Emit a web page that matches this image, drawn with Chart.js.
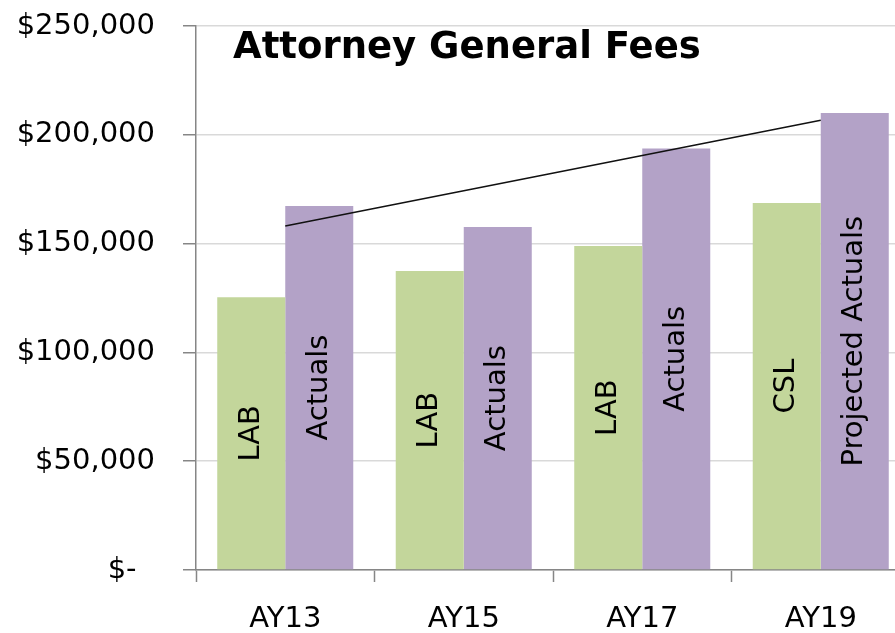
<!DOCTYPE html>
<html>
<head>
<meta charset="utf-8">
<script src="https://cdn.jsdelivr.net/npm/chart.js@4/dist/chart.umd.min.js"></script>
<style>
  html, body { margin: 0; padding: 0; overflow: hidden; background: #fff; }
  #wrap { width: 911px; height: 633px; position: relative; }
</style>
</head>
<body>
<div id="wrap"><canvas id="chart"></canvas></div>
<script>
// values
const categories = ["AY13", "AY15", "AY17", "AY19"];
const budgetValues = [125300, 137400, 148900, 168700];
const actualValues = [167300, 157600, 193700, 210000];
const trendValues = [158100, 174300, 190500, 206700];
const budgetTags = ["LAB", "LAB", "LAB", "CSL"];
const actualTags = ["Actuals", "Actuals", "Actuals", "Projected Actuals"];
const yMax = 250000;
const yStep = 50000;

const FONT = "DejaVu Sans";

function moneyLabel(value) {
  if (value === 0) return "$-  ";
  return "$" + value.toLocaleString("en-US");
}

// vertical text inside each bar
const barTags = {
  id: "barTags",
  afterDatasetsDraw(chart) {
    const ctx = chart.ctx;
    const tagSets = [budgetTags, actualTags];
    ctx.save();
    ctx.font = "29px " + FONT;
    ctx.fillStyle = "#000";
    ctx.textAlign = "center";
    ctx.textBaseline = "middle";
    [1, 2].forEach((dsIndex, k) => {
      const meta = chart.getDatasetMeta(dsIndex);
      meta.data.forEach((bar, i) => {
        const cy = (bar.y + bar.base) / 2;
        ctx.save();
        ctx.translate(bar.x, cy);
        ctx.rotate(-Math.PI / 2);
        ctx.fillText(tagSets[k][i], 0, 0);
        ctx.restore();
      });
    });
    ctx.restore();
  },
};

const chartTitle = {
  id: "chartTitle",
  afterDraw(chart) {
    const ctx = chart.ctx;
    ctx.save();
    ctx.font = "bold 37px " + FONT;
    ctx.fillStyle = "#000";
    ctx.textAlign = "left";
    ctx.textBaseline = "alphabetic";
    ctx.fillText("Attorney General Fees", 233, 58);
    ctx.restore();
  },
};

const canvas = document.getElementById("chart");

const chart = new Chart(canvas, {
  data: {
    labels: categories,
    datasets: [
      {
        type: "line",
        label: "Trend",
        data: trendValues,
        borderColor: "#111",
        borderWidth: 1.5,
        pointRadius: 0,
        fill: false,
        order: 0,
      },
      {
        type: "bar",
        label: "Budget",
        data: budgetValues,
        backgroundColor: "#c3d69b",
        categoryPercentage: 0.762,
        barPercentage: 1,
        order: 1,
      },
      {
        type: "bar",
        label: "Actuals",
        data: actualValues,
        backgroundColor: "#b3a2c7",
        categoryPercentage: 0.762,
        barPercentage: 1,
        order: 1,
      },
    ],
  },
  options: {
    responsive: true,
    maintainAspectRatio: false,
    animation: false,
    layout: {
      padding: { top: 26, right: 1, left: 0, bottom: 0 },
    },
    scales: {
      x: {
        offset: true,
        grid: {
          offset: true,
          drawOnChartArea: false,
          drawTicks: true,
          tickLength: 12,
          tickColor: "#868686",
          tickWidth: 1.5,
        },
        border: { color: "#868686", width: 1.5 },
        ticks: {
          color: "#000",
          font: { family: FONT, size: 29 },
          padding: 20,
          maxRotation: 0,
        },
        afterFit(scale) {
          scale.height = 63;
          scale.paddingLeft = 0;
          scale.paddingRight = 0;
        },
      },
      y: {
        min: 0,
        max: yMax,
        ticks: {
          stepSize: yStep,
          color: "#000",
          font: { family: FONT, size: 29 },
          padding: 28,
          callback: (value) => moneyLabel(value),
        },
        grid: {
          color: "#d9d9d9",
          lineWidth: 1.5,
          tickColor: "#868686",
          tickLength: 13,
          tickWidth: 1.5,
        },
        border: { color: "#868686", width: 1.5 },
        afterFit(scale) {
          scale.width = 196;
          scale.paddingTop = 0;
          scale.paddingBottom = 0;
        },
      },
    },
    plugins: {
      legend: { display: false },
      tooltip: { enabled: false },
    },
  },
  plugins: [barTags, chartTitle],
});
</script>
</body>
</html>
